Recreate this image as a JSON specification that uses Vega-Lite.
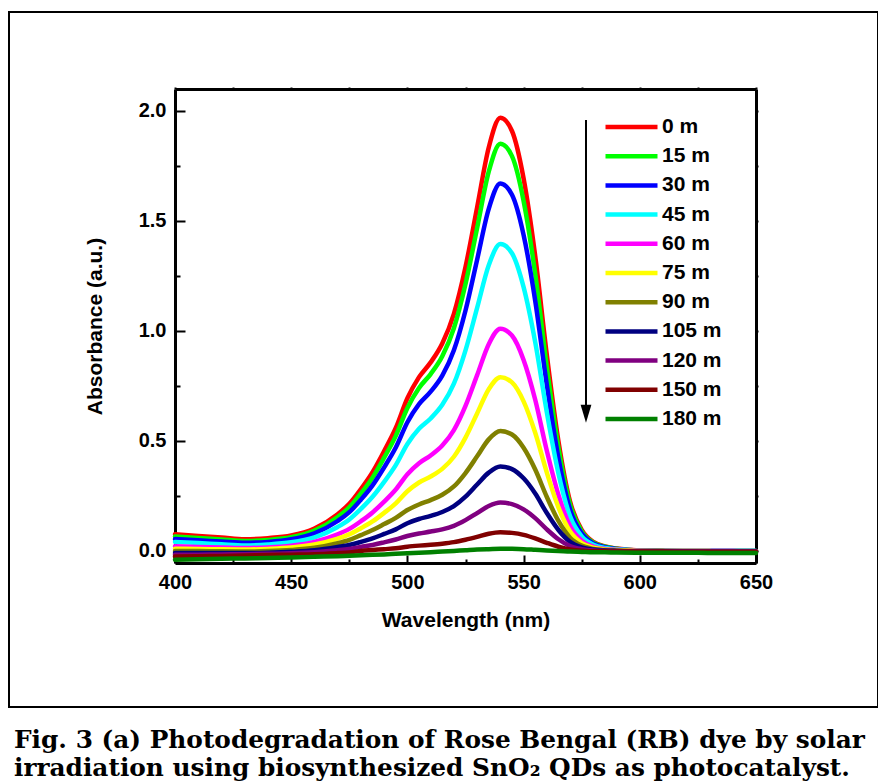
{
"$schema": "https://vega.github.io/schema/vega-lite/v6.json",
"width": 869,
"height": 695,
"autosize": {"type": "none"},
"padding": {"left": 9, "top": 12, "right": 0, "bottom": 76},
"background": "white",
"config": {
  "view": {"stroke": "black", "strokeWidth": 2},
  "axis": {"grid": false, "labelFont": "Liberation Sans", "titleFont": "Liberation Sans", "labelFontWeight": "bold", "titleFontWeight": "bold", "labelColor": "black", "titleColor": "black", "domainColor": "black", "tickColor": "black"}
},
"title": {
  "text": ["Fig. 3 (a) Photodegradation of Rose Bengal (RB) dye by solar", "irradiation using biosynthesized SnO₂ QDs as photocatalyst."],
  "orient": "bottom", "anchor": "start", "frame": "group",
  "font": "DejaVu Serif", "fontSize": 24.8, "fontWeight": "bold", "color": "black",
  "lineHeight": 28, "baseline": "alphabetic", "offset": 41, "dx": 5
},
"datasets": {
"spectra": [
{"t":"0 m","w":400,"a":0.076},{"t":"0 m","w":410,"a":0.068},{"t":"0 m","w":420,"a":0.061},{"t":"0 m","w":430,"a":0.053},{"t":"0 m","w":440,"a":0.058},{"t":"0 m","w":450,"a":0.070},{"t":"0 m","w":460,"a":0.102},{"t":"0 m","w":470,"a":0.167},{"t":"0 m","w":475,"a":0.214},{"t":"0 m","w":480,"a":0.281},{"t":"0 m","w":485,"a":0.358},{"t":"0 m","w":490,"a":0.454},{"t":"0 m","w":495,"a":0.559},{"t":"0 m","w":500,"a":0.694},{"t":"0 m","w":505,"a":0.790},{"t":"0 m","w":510,"a":0.857},{"t":"0 m","w":515,"a":0.943},{"t":"0 m","w":520,"a":1.078},{"t":"0 m","w":525,"a":1.291},{"t":"0 m","w":530,"a":1.562},{"t":"0 m","w":535,"a":1.834},{"t":"0 m","w":540,"a":1.969},{"t":"0 m","w":545,"a":1.909},{"t":"0 m","w":550,"a":1.693},{"t":"0 m","w":555,"a":1.340},{"t":"0 m","w":560,"a":0.890},{"t":"0 m","w":565,"a":0.498},{"t":"0 m","w":570,"a":0.224},{"t":"0 m","w":575,"a":0.096},{"t":"0 m","w":580,"a":0.041},{"t":"0 m","w":585,"a":0.020},{"t":"0 m","w":590,"a":0.011},{"t":"0 m","w":600,"a":0.002},{"t":"0 m","w":610,"a":0.001},{"t":"0 m","w":620,"a":0.0},{"t":"0 m","w":630,"a":0.0},{"t":"0 m","w":640,"a":0.0},{"t":"0 m","w":650,"a":-0.001},
{"t":"15 m","w":400,"a":0.066},{"t":"15 m","w":410,"a":0.059},{"t":"15 m","w":420,"a":0.052},{"t":"15 m","w":430,"a":0.045},{"t":"15 m","w":440,"a":0.050},{"t":"15 m","w":450,"a":0.062},{"t":"15 m","w":460,"a":0.092},{"t":"15 m","w":470,"a":0.154},{"t":"15 m","w":475,"a":0.198},{"t":"15 m","w":480,"a":0.261},{"t":"15 m","w":485,"a":0.333},{"t":"15 m","w":490,"a":0.424},{"t":"15 m","w":495,"a":0.523},{"t":"15 m","w":500,"a":0.650},{"t":"15 m","w":505,"a":0.741},{"t":"15 m","w":510,"a":0.804},{"t":"15 m","w":515,"a":0.885},{"t":"15 m","w":520,"a":1.012},{"t":"15 m","w":525,"a":1.213},{"t":"15 m","w":530,"a":1.468},{"t":"15 m","w":535,"a":1.724},{"t":"15 m","w":540,"a":1.851},{"t":"15 m","w":545,"a":1.795},{"t":"15 m","w":550,"a":1.591},{"t":"15 m","w":555,"a":1.260},{"t":"15 m","w":560,"a":0.836},{"t":"15 m","w":565,"a":0.468},{"t":"15 m","w":570,"a":0.210},{"t":"15 m","w":575,"a":0.089},{"t":"15 m","w":580,"a":0.038},{"t":"15 m","w":585,"a":0.019},{"t":"15 m","w":590,"a":0.010},{"t":"15 m","w":600,"a":0.002},{"t":"15 m","w":610,"a":0.001},{"t":"15 m","w":620,"a":0.0},{"t":"15 m","w":630,"a":0.0},{"t":"15 m","w":640,"a":0.0},{"t":"15 m","w":650,"a":-0.001},
{"t":"30 m","w":400,"a":0.054},{"t":"30 m","w":410,"a":0.048},{"t":"30 m","w":420,"a":0.043},{"t":"30 m","w":430,"a":0.037},{"t":"30 m","w":440,"a":0.041},{"t":"30 m","w":450,"a":0.053},{"t":"30 m","w":460,"a":0.080},{"t":"30 m","w":470,"a":0.136},{"t":"30 m","w":475,"a":0.176},{"t":"30 m","w":480,"a":0.233},{"t":"30 m","w":485,"a":0.298},{"t":"30 m","w":490,"a":0.380},{"t":"30 m","w":495,"a":0.470},{"t":"30 m","w":500,"a":0.585},{"t":"30 m","w":505,"a":0.667},{"t":"30 m","w":510,"a":0.724},{"t":"30 m","w":515,"a":0.797},{"t":"30 m","w":520,"a":0.912},{"t":"30 m","w":525,"a":1.093},{"t":"30 m","w":530,"a":1.324},{"t":"30 m","w":535,"a":1.555},{"t":"30 m","w":540,"a":1.670},{"t":"30 m","w":545,"a":1.619},{"t":"30 m","w":550,"a":1.436},{"t":"30 m","w":555,"a":1.137},{"t":"30 m","w":560,"a":0.754},{"t":"30 m","w":565,"a":0.422},{"t":"30 m","w":570,"a":0.189},{"t":"30 m","w":575,"a":0.080},{"t":"30 m","w":580,"a":0.034},{"t":"30 m","w":585,"a":0.017},{"t":"30 m","w":590,"a":0.009},{"t":"30 m","w":600,"a":0.002},{"t":"30 m","w":610,"a":0.001},{"t":"30 m","w":620,"a":0.0},{"t":"30 m","w":630,"a":0.0},{"t":"30 m","w":640,"a":0.0},{"t":"30 m","w":650,"a":-0.001},
{"t":"45 m","w":400,"a":0.041},{"t":"45 m","w":410,"a":0.036},{"t":"45 m","w":420,"a":0.030},{"t":"45 m","w":430,"a":0.025},{"t":"45 m","w":440,"a":0.029},{"t":"45 m","w":450,"a":0.039},{"t":"45 m","w":460,"a":0.062},{"t":"45 m","w":470,"a":0.109},{"t":"45 m","w":475,"a":0.143},{"t":"45 m","w":480,"a":0.191},{"t":"45 m","w":485,"a":0.246},{"t":"45 m","w":490,"a":0.314},{"t":"45 m","w":495,"a":0.390},{"t":"45 m","w":500,"a":0.486},{"t":"45 m","w":505,"a":0.555},{"t":"45 m","w":510,"a":0.602},{"t":"45 m","w":515,"a":0.664},{"t":"45 m","w":520,"a":0.760},{"t":"45 m","w":525,"a":0.912},{"t":"45 m","w":530,"a":1.105},{"t":"45 m","w":535,"a":1.299},{"t":"45 m","w":540,"a":1.395},{"t":"45 m","w":545,"a":1.353},{"t":"45 m","w":550,"a":1.199},{"t":"45 m","w":555,"a":0.949},{"t":"45 m","w":560,"a":0.630},{"t":"45 m","w":565,"a":0.352},{"t":"45 m","w":570,"a":0.157},{"t":"45 m","w":575,"a":0.066},{"t":"45 m","w":580,"a":0.028},{"t":"45 m","w":585,"a":0.013},{"t":"45 m","w":590,"a":0.007},{"t":"45 m","w":600,"a":0.001},{"t":"45 m","w":610,"a":0.0},{"t":"45 m","w":620,"a":0.0},{"t":"45 m","w":630,"a":0.0},{"t":"45 m","w":640,"a":-0.001},{"t":"45 m","w":650,"a":-0.001},
{"t":"60 m","w":400,"a":0.021},{"t":"60 m","w":410,"a":0.018},{"t":"60 m","w":420,"a":0.016},{"t":"60 m","w":430,"a":0.013},{"t":"60 m","w":440,"a":0.016},{"t":"60 m","w":450,"a":0.024},{"t":"60 m","w":460,"a":0.041},{"t":"60 m","w":470,"a":0.075},{"t":"60 m","w":475,"a":0.100},{"t":"60 m","w":480,"a":0.135},{"t":"60 m","w":485,"a":0.175},{"t":"60 m","w":490,"a":0.224},{"t":"60 m","w":495,"a":0.279},{"t":"60 m","w":500,"a":0.349},{"t":"60 m","w":505,"a":0.399},{"t":"60 m","w":510,"a":0.434},{"t":"60 m","w":515,"a":0.479},{"t":"60 m","w":520,"a":0.549},{"t":"60 m","w":525,"a":0.659},{"t":"60 m","w":530,"a":0.799},{"t":"60 m","w":535,"a":0.940},{"t":"60 m","w":540,"a":1.010},{"t":"60 m","w":545,"a":0.979},{"t":"60 m","w":550,"a":0.868},{"t":"60 m","w":555,"a":0.687},{"t":"60 m","w":560,"a":0.455},{"t":"60 m","w":565,"a":0.254},{"t":"60 m","w":570,"a":0.113},{"t":"60 m","w":575,"a":0.047},{"t":"60 m","w":580,"a":0.020},{"t":"60 m","w":585,"a":0.009},{"t":"60 m","w":590,"a":0.005},{"t":"60 m","w":600,"a":0.001},{"t":"60 m","w":610,"a":0.0},{"t":"60 m","w":620,"a":0.0},{"t":"60 m","w":630,"a":-0.001},{"t":"60 m","w":640,"a":-0.001},{"t":"60 m","w":650,"a":-0.002},
{"t":"75 m","w":400,"a":0.010},{"t":"75 m","w":410,"a":0.009},{"t":"75 m","w":420,"a":0.007},{"t":"75 m","w":430,"a":0.006},{"t":"75 m","w":440,"a":0.009},{"t":"75 m","w":450,"a":0.015},{"t":"75 m","w":460,"a":0.029},{"t":"75 m","w":470,"a":0.056},{"t":"75 m","w":475,"a":0.075},{"t":"75 m","w":480,"a":0.103},{"t":"75 m","w":485,"a":0.134},{"t":"75 m","w":490,"a":0.173},{"t":"75 m","w":495,"a":0.216},{"t":"75 m","w":500,"a":0.271},{"t":"75 m","w":505,"a":0.311},{"t":"75 m","w":510,"a":0.338},{"t":"75 m","w":515,"a":0.373},{"t":"75 m","w":520,"a":0.428},{"t":"75 m","w":525,"a":0.515},{"t":"75 m","w":530,"a":0.625},{"t":"75 m","w":535,"a":0.735},{"t":"75 m","w":540,"a":0.790},{"t":"75 m","w":545,"a":0.766},{"t":"75 m","w":550,"a":0.680},{"t":"75 m","w":555,"a":0.537},{"t":"75 m","w":560,"a":0.356},{"t":"75 m","w":565,"a":0.198},{"t":"75 m","w":570,"a":0.088},{"t":"75 m","w":575,"a":0.036},{"t":"75 m","w":580,"a":0.015},{"t":"75 m","w":585,"a":0.007},{"t":"75 m","w":590,"a":0.004},{"t":"75 m","w":600,"a":0.0},{"t":"75 m","w":610,"a":0.0},{"t":"75 m","w":620,"a":-0.001},{"t":"75 m","w":630,"a":-0.001},{"t":"75 m","w":640,"a":-0.002},{"t":"75 m","w":650,"a":-0.002},
{"t":"90 m","w":400,"a":0.000},{"t":"90 m","w":410,"a":-0.001},{"t":"90 m","w":420,"a":-0.002},{"t":"90 m","w":430,"a":-0.003},{"t":"90 m","w":440,"a":-0.001},{"t":"90 m","w":450,"a":0.004},{"t":"90 m","w":460,"a":0.014},{"t":"90 m","w":470,"a":0.035},{"t":"90 m","w":475,"a":0.050},{"t":"90 m","w":480,"a":0.072},{"t":"90 m","w":485,"a":0.095},{"t":"90 m","w":490,"a":0.122},{"t":"90 m","w":495,"a":0.150},{"t":"90 m","w":500,"a":0.186},{"t":"90 m","w":505,"a":0.211},{"t":"90 m","w":510,"a":0.231},{"t":"90 m","w":515,"a":0.255},{"t":"90 m","w":520,"a":0.293},{"t":"90 m","w":525,"a":0.354},{"t":"90 m","w":530,"a":0.430},{"t":"90 m","w":535,"a":0.507},{"t":"90 m","w":540,"a":0.545},{"t":"90 m","w":545,"a":0.529},{"t":"90 m","w":550,"a":0.469},{"t":"90 m","w":555,"a":0.370},{"t":"90 m","w":560,"a":0.245},{"t":"90 m","w":565,"a":0.136},{"t":"90 m","w":570,"a":0.060},{"t":"90 m","w":575,"a":0.024},{"t":"90 m","w":580,"a":0.009},{"t":"90 m","w":585,"a":0.004},{"t":"90 m","w":590,"a":0.002},{"t":"90 m","w":600,"a":-0.001},{"t":"90 m","w":610,"a":-0.001},{"t":"90 m","w":620,"a":-0.002},{"t":"90 m","w":630,"a":-0.002},{"t":"90 m","w":640,"a":-0.002},{"t":"90 m","w":650,"a":-0.002},
{"t":"105 m","w":400,"a":-0.010},{"t":"105 m","w":410,"a":-0.010},{"t":"105 m","w":420,"a":-0.010},{"t":"105 m","w":430,"a":-0.010},{"t":"105 m","w":440,"a":-0.008},{"t":"105 m","w":450,"a":-0.004},{"t":"105 m","w":460,"a":0.003},{"t":"105 m","w":470,"a":0.018},{"t":"105 m","w":475,"a":0.027},{"t":"105 m","w":480,"a":0.041},{"t":"105 m","w":485,"a":0.057},{"t":"105 m","w":490,"a":0.077},{"t":"105 m","w":495,"a":0.098},{"t":"105 m","w":500,"a":0.126},{"t":"105 m","w":505,"a":0.145},{"t":"105 m","w":510,"a":0.159},{"t":"105 m","w":515,"a":0.177},{"t":"105 m","w":520,"a":0.204},{"t":"105 m","w":525,"a":0.247},{"t":"105 m","w":530,"a":0.302},{"t":"105 m","w":535,"a":0.356},{"t":"105 m","w":540,"a":0.384},{"t":"105 m","w":545,"a":0.372},{"t":"105 m","w":550,"a":0.330},{"t":"105 m","w":555,"a":0.261},{"t":"105 m","w":560,"a":0.172},{"t":"105 m","w":565,"a":0.095},{"t":"105 m","w":570,"a":0.041},{"t":"105 m","w":575,"a":0.016},{"t":"105 m","w":580,"a":0.006},{"t":"105 m","w":585,"a":0.002},{"t":"105 m","w":590,"a":0.0},{"t":"105 m","w":600,"a":-0.002},{"t":"105 m","w":610,"a":-0.002},{"t":"105 m","w":620,"a":-0.002},{"t":"105 m","w":630,"a":-0.003},{"t":"105 m","w":640,"a":-0.003},{"t":"105 m","w":650,"a":-0.003},
{"t":"120 m","w":400,"a":-0.018},{"t":"120 m","w":410,"a":-0.017},{"t":"120 m","w":420,"a":-0.016},{"t":"120 m","w":430,"a":-0.015},{"t":"120 m","w":440,"a":-0.013},{"t":"120 m","w":450,"a":-0.011},{"t":"120 m","w":460,"a":-0.006},{"t":"120 m","w":470,"a":0.003},{"t":"120 m","w":475,"a":0.009},{"t":"120 m","w":480,"a":0.018},{"t":"120 m","w":485,"a":0.027},{"t":"120 m","w":490,"a":0.039},{"t":"120 m","w":495,"a":0.052},{"t":"120 m","w":500,"a":0.068},{"t":"120 m","w":505,"a":0.079},{"t":"120 m","w":510,"a":0.088},{"t":"120 m","w":515,"a":0.098},{"t":"120 m","w":520,"a":0.114},{"t":"120 m","w":525,"a":0.140},{"t":"120 m","w":530,"a":0.172},{"t":"120 m","w":535,"a":0.204},{"t":"120 m","w":540,"a":0.220},{"t":"120 m","w":545,"a":0.213},{"t":"120 m","w":550,"a":0.189},{"t":"120 m","w":555,"a":0.149},{"t":"120 m","w":560,"a":0.098},{"t":"120 m","w":565,"a":0.053},{"t":"120 m","w":570,"a":0.022},{"t":"120 m","w":575,"a":0.008},{"t":"120 m","w":580,"a":0.002},{"t":"120 m","w":585,"a":0.0},{"t":"120 m","w":590,"a":-0.001},{"t":"120 m","w":600,"a":-0.002},{"t":"120 m","w":610,"a":-0.003},{"t":"120 m","w":620,"a":-0.003},{"t":"120 m","w":630,"a":-0.003},{"t":"120 m","w":640,"a":-0.003},{"t":"120 m","w":650,"a":-0.003},
{"t":"150 m","w":400,"a":-0.026},{"t":"150 m","w":410,"a":-0.024},{"t":"150 m","w":420,"a":-0.023},{"t":"150 m","w":430,"a":-0.021},{"t":"150 m","w":440,"a":-0.019},{"t":"150 m","w":450,"a":-0.017},{"t":"150 m","w":460,"a":-0.015},{"t":"150 m","w":470,"a":-0.010},{"t":"150 m","w":475,"a":-0.007},{"t":"150 m","w":480,"a":0.000},{"t":"150 m","w":485,"a":0.004},{"t":"150 m","w":490,"a":0.008},{"t":"150 m","w":495,"a":0.012},{"t":"150 m","w":500,"a":0.019},{"t":"150 m","w":505,"a":0.024},{"t":"150 m","w":510,"a":0.028},{"t":"150 m","w":515,"a":0.033},{"t":"150 m","w":520,"a":0.040},{"t":"150 m","w":525,"a":0.051},{"t":"150 m","w":530,"a":0.064},{"t":"150 m","w":535,"a":0.078},{"t":"150 m","w":540,"a":0.085},{"t":"150 m","w":545,"a":0.082},{"t":"150 m","w":550,"a":0.073},{"t":"150 m","w":555,"a":0.057},{"t":"150 m","w":560,"a":0.037},{"t":"150 m","w":565,"a":0.019},{"t":"150 m","w":570,"a":0.006},{"t":"150 m","w":575,"a":0.001},{"t":"150 m","w":580,"a":-0.002},{"t":"150 m","w":585,"a":-0.002},{"t":"150 m","w":590,"a":-0.003},{"t":"150 m","w":600,"a":-0.003},{"t":"150 m","w":610,"a":-0.003},{"t":"150 m","w":620,"a":-0.004},{"t":"150 m","w":630,"a":-0.004},{"t":"150 m","w":640,"a":-0.004},{"t":"150 m","w":650,"a":-0.004},
{"t":"180 m","w":400,"a":-0.040},{"t":"180 m","w":410,"a":-0.038},{"t":"180 m","w":420,"a":-0.036},{"t":"180 m","w":430,"a":-0.034},{"t":"180 m","w":440,"a":-0.032},{"t":"180 m","w":450,"a":-0.030},{"t":"180 m","w":460,"a":-0.027},{"t":"180 m","w":470,"a":-0.024},{"t":"180 m","w":475,"a":-0.022},{"t":"180 m","w":480,"a":-0.020},{"t":"180 m","w":485,"a":-0.018},{"t":"180 m","w":490,"a":-0.016},{"t":"180 m","w":495,"a":-0.0135},{"t":"180 m","w":500,"a":-0.011},{"t":"180 m","w":505,"a":-0.0085},{"t":"180 m","w":510,"a":-0.006},{"t":"180 m","w":515,"a":-0.003},{"t":"180 m","w":520,"a":0.0},{"t":"180 m","w":525,"a":0.003},{"t":"180 m","w":530,"a":0.006},{"t":"180 m","w":535,"a":0.008},{"t":"180 m","w":540,"a":0.010},{"t":"180 m","w":545,"a":0.0095},{"t":"180 m","w":550,"a":0.008},{"t":"180 m","w":555,"a":0.005},{"t":"180 m","w":560,"a":0.002},{"t":"180 m","w":565,"a":0.0},{"t":"180 m","w":570,"a":-0.003},{"t":"180 m","w":575,"a":-0.0045},{"t":"180 m","w":580,"a":-0.006},{"t":"180 m","w":585,"a":-0.0065},{"t":"180 m","w":590,"a":-0.007},{"t":"180 m","w":600,"a":-0.008},{"t":"180 m","w":610,"a":-0.008},{"t":"180 m","w":620,"a":-0.008},{"t":"180 m","w":630,"a":-0.009},{"t":"180 m","w":640,"a":-0.009},{"t":"180 m","w":650,"a":-0.009}
],
"arrow": [{"w": 576.85, "a": 1.959, "a2": 0.66}],
"arrowhead": [{"w": 576.85, "a": 0.623}]
},
"layer": [
  {
    "data": {"name": "spectra"},
    "mark": {"type": "line", "interpolate": "monotone", "strokeWidth": 4.5, "strokeCap": "round", "strokeJoin": "round"},
    "encoding": {
      "x": {"field": "w", "type": "quantitative",
        "scale": {"domain": [400, 650], "range": [166, 747], "nice": false, "zero": false},
        "axis": {"orient": "bottom", "offset": -144, "values": [400, 450, 500, 550, 600, 650], "ticks": false, "domain": true, "domainWidth": 3, "labelFontSize": 20, "labelPadding": 9, "labelFlush": false, "title": "Wavelength (nm)", "titleFontSize": 21, "titlePadding": 17}},
      "y": {"field": "a", "type": "quantitative",
        "scale": {"domain": [-0.055, 2.1], "range": [551, 77], "nice": false, "zero": false},
        "axis": {"orient": "left", "offset": -166, "values": [0, 0.5, 1, 1.5, 2], "format": ".1f", "ticks": false, "domain": true, "domainWidth": 3, "labelFontSize": 20, "labelPadding": 9, "labelFlush": false, "title": "Absorbance (a.u.)", "titleFontSize": 21, "titlePadding": 33}},
      "color": {"field": "t", "type": "nominal",
        "scale": {"domain": ["0 m","15 m","30 m","45 m","60 m","75 m","90 m","105 m","120 m","150 m","180 m"],
                  "range": ["#ff0000","#00ff00","#0000ff","#00ffff","#ff00ff","#ffff00","#808000","#000080","#800080","#800000","#008000"]},
        "legend": {"orient": "none", "legendX": 612, "legendY": 104.5, "title": null, "padding": 0,
          "symbolType": "M-4,0H4", "symbolSize": 169, "symbolStrokeWidth": 4.5, "symbolOffset": 0,
          "labelFont": "Liberation Sans", "labelFontWeight": "bold", "labelFontSize": 21, "labelColor": "black",
          "labelOffset": 20, "rowPadding": 7.2, "labelLimit": 200}}
    }
  },
  {
    "data": {"name": "arrow"},
    "mark": {"type": "rule", "strokeWidth": 2, "color": "black"},
    "encoding": {
      "x": {"field": "w", "type": "quantitative",
        "axis": {"orient": "bottom", "offset": -144, "values": [400,425,450,475,500,525,550,575,600,625,650], "labels": false, "domain": false, "title": null, "tickWidth": 2,
          "tickSize": {"condition": {"test": "datum.value % 50 === 0", "value": -8}, "value": -4}}},
      "y": {"field": "a", "type": "quantitative",
        "axis": {"orient": "left", "offset": -166, "values": [0,0.25,0.5,0.75,1,1.25,1.5,1.75,2], "labels": false, "domain": false, "title": null, "tickWidth": 2,
          "tickSize": {"condition": {"test": "datum.value % 0.5 === 0", "value": -10}, "value": -5}}},
      "y2": {"field": "a2"}
    }
  },
  {
    "data": {"name": "arrowhead"},
    "mark": {"type": "point", "shape": "M-0.6,-1L0.6,-1L0,1Z", "size": 324, "filled": true, "color": "black", "opacity": 1},
    "encoding": {
      "x": {"field": "w", "type": "quantitative",
        "axis": {"orient": "top", "offset": -77, "values": [400,425,450,475,500,525,550,575,600,625,650], "labels": false, "domain": true, "domainWidth": 3, "title": null, "tickWidth": 2, "tickSize": 2}},
      "y": {"field": "a", "type": "quantitative",
        "axis": {"orient": "right", "offset": -122, "values": [0,0.25,0.5,0.75,1,1.25,1.5,1.75,2], "labels": false, "domain": true, "domainWidth": 3, "title": null, "tickWidth": 2, "tickSize": 2}}
    }
  }
],
"resolve": {"axis": {"x": "independent", "y": "independent"}}
}
